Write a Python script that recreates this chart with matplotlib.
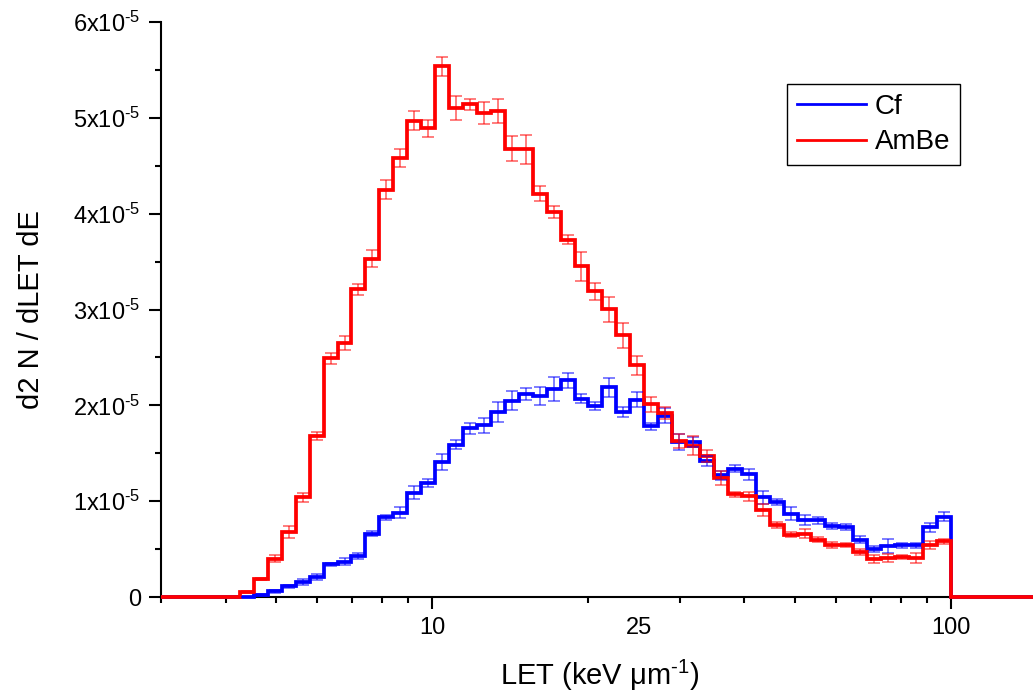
import numpy as np
import matplotlib.pyplot as plt
from matplotlib.ticker import NullFormatter, LogLocator

plt.rcParams['font.family'] = ['Liberation Sans', 'DejaVu Sans']
plt.rcParams['mathtext.fontset'] = 'custom'
plt.rcParams['mathtext.rm'] = 'Liberation Sans'
plt.rcParams['mathtext.it'] = 'Liberation Sans:italic'
plt.rcParams['mathtext.default'] = 'regular'

# LET binning (keV/um): log spaced bins ending at 100
let_lo = 4.26
let_hi = 100.0
n_bins = 51
x_min, x_max = 3.0, 144.0

# d2N / dLET dE, in units of 1e-5
cf = [0.00, 0.02, 0.06, 0.11, 0.16, 0.21, 0.34, 0.37, 0.43, 0.66,
      0.83, 0.88, 1.09, 1.19, 1.41, 1.59, 1.76, 1.79, 1.93, 2.05,
      2.12, 2.10, 2.17, 2.26, 2.07, 1.99, 2.19, 1.93, 2.06, 1.78,
      1.89, 1.62, 1.62, 1.42, 1.27, 1.34, 1.28, 1.04, 0.99, 0.87,
      0.80, 0.80, 0.74, 0.73, 0.60, 0.50, 0.53, 0.54, 0.54, 0.73, 0.84]
cf_err = [0.0, 0.01, 0.015, 0.02, 0.03, 0.03, 0.02, 0.04, 0.03, 0.026,
          0.03, 0.06, 0.065, 0.04, 0.087, 0.05, 0.06, 0.083, 0.104, 0.095,
          0.066, 0.092, 0.127, 0.08, 0.05, 0.04, 0.10, 0.05, 0.075, 0.035,
          0.078, 0.083, 0.05, 0.05, 0.045, 0.04, 0.06, 0.068, 0.03, 0.064,
          0.052, 0.038, 0.035, 0.028, 0.036, 0.035, 0.073, 0.026, 0.026, 0.047, 0.047]

ambe = [0.05, 0.19, 0.40, 0.68, 1.04, 1.68, 2.49, 2.65, 3.21, 3.53,
        4.25, 4.58, 4.97, 4.89, 5.54, 5.10, 5.14, 5.05, 5.07, 4.68,
        4.67, 4.21, 4.02, 3.73, 3.45, 3.19, 3.00, 2.73, 2.42, 2.01,
        1.92, 1.63, 1.58, 1.47, 1.24, 1.07, 1.05, 0.91, 0.75, 0.65,
        0.66, 0.60, 0.54, 0.54, 0.47, 0.40, 0.41, 0.42, 0.41, 0.54, 0.58]
ambe_err = [0.01, 0.01, 0.035, 0.06, 0.05, 0.04, 0.06, 0.07, 0.06, 0.09,
            0.10, 0.09, 0.10, 0.09, 0.10, 0.125, 0.06, 0.11, 0.125, 0.13,
            0.15, 0.08, 0.065, 0.05, 0.15, 0.09, 0.13, 0.13, 0.10, 0.08,
            0.06, 0.07, 0.095, 0.06, 0.075, 0.03, 0.045, 0.065, 0.03, 0.025,
            0.045, 0.025, 0.03, 0.02, 0.035, 0.04, 0.04, 0.02, 0.05, 0.04, 0.025]

edges = np.logspace(np.log10(let_lo), np.log10(let_hi), n_bins + 1)
centers = np.sqrt(edges[:-1] * edges[1:])
full_edges = np.concatenate([[x_min], edges, [x_max]])

fig = plt.figure(figsize=(10.33, 6.94), dpi=100)
ax = fig.add_axes([161 / 1033, 1 - 597 / 694, 872 / 1033, 575 / 694])

for vals, errs, col, name in [(cf, cf_err, 'blue', 'Cf'), (ambe, ambe_err, 'red', 'AmBe')]:
    v = np.array(vals) * 1e-5
    e = np.array(errs) * 1e-5
    ax.stairs(np.concatenate([[0], v, [0]]), full_edges, color=col, lw=2.7,
              label=name, clip_on=False, zorder=3)
    ax.errorbar(centers, v, yerr=e, fmt='none', ecolor=col, alpha=0.55,
                elinewidth=1.3, capsize=4.3, capthick=1.3, zorder=4)

ax.set_xscale('log')
ax.set_xlim(x_min, x_max)
ax.set_ylim(0, 6e-5)

ax.set_xticks([10, 25, 100])
ax.set_xticklabels(['10', '25', '100'])
ax.xaxis.get_major_ticks()[1].tick1line.set_visible(False)
ax.xaxis.set_minor_locator(LogLocator(base=10, subs=np.arange(2, 10)))
ax.xaxis.set_minor_formatter(NullFormatter())

ax.set_yticks([0, 1e-5, 2e-5, 3e-5, 4e-5, 5e-5, 6e-5])
ax.set_yticklabels(['0'] + [r'%dx10$^{\text{-5}}$' % i for i in range(1, 7)])
ax.set_yticks(np.arange(0.5, 6, 1) * 1e-5, minor=True)

for s in ['top', 'right']:
    ax.spines[s].set_visible(False)
for s in ['left', 'bottom']:
    ax.spines[s].set_linewidth(1.5)
ax.tick_params(which='major', direction='out', length=8.5, width=1.5, labelsize=17, pad=6)
ax.tick_params(which='minor', direction='out', length=4.3, width=1.5)

ax.set_xlabel(r'LET (keV μm$^{\text{-1}}$)', fontsize=21)
ax.xaxis.set_label_coords(0.503, -0.105)
ax.set_ylabel('d2 N / dLET dE', fontsize=21)
ax.yaxis.set_label_coords(-0.133, 0.5)

leg = ax.legend(loc='upper left', bbox_to_anchor=(787 / 1033, 1 - 84 / 694),
                bbox_transform=fig.transFigure, borderaxespad=0, fontsize=20,
                fancybox=False, framealpha=1, edgecolor='black', handlelength=2.5,
                handles=[plt.Line2D([], [], color='blue', lw=2),
                         plt.Line2D([], [], color='red', lw=2)],
                labels=['Cf', 'AmBe'], labelspacing=0.35, borderpad=0.35,
                handletextpad=0.3)
leg.get_frame().set_linewidth(1.0)

fig.savefig('out.png', dpi=100)
